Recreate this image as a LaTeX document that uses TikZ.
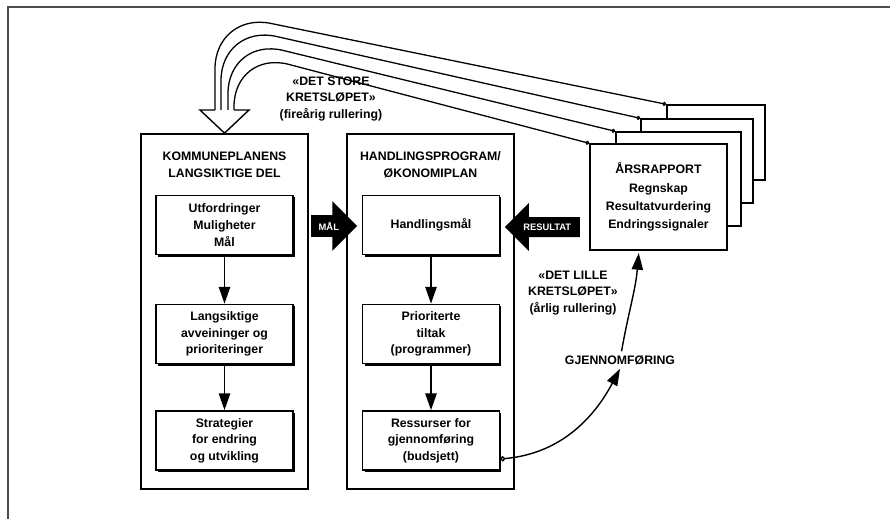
\documentclass[tikz,border=0pt]{standalone}
\usepackage{fontspec}
\setmainfont{Liberation Sans}
\usetikzlibrary{arrows.meta, shapes.arrows, shadows}

\tikzset{
    every node/.style={font=\bfseries\fontsize{10.5}{14.2}\selectfont, align=center},
    ramme/.style={draw, line width=1.5pt, minimum width=5.01cm, minimum height=10.65cm},
    boks/.style={draw, fill=white, line width=1.2pt, minimum width=4.1cm, minimum height=1.78cm, inner sep=2pt,
        drop shadow={shadow xshift=1.8pt, shadow yshift=-1.8pt, fill=black, opacity=1}},
    rapport/.style={draw, fill=white, line width=1.2pt, inner sep=0pt},
    blokkpil/.style={single arrow, fill=black, text=white, font=\bfseries\fontsize{8}{8}\selectfont,
        inner xsep=1pt, inner ysep=5.5pt, single arrow head extend=0.42cm},
    pil/.style={-{Triangle[length=5mm, width=3.4mm]}, line width=1.2pt},
    kurve/.style={{Circle[open, length=3.5pt]}-, line width=1.1pt, rounded corners=1.7cm},
}

\begin{document}
\begin{tikzpicture}[x=0.03cm, y=-0.03cm]
    \useasboundingbox (0,0) rectangle (890,519);
    % ramme rundt figuren
    \draw[gray!60!black, line width=1.8pt] (8,519) -- (8,7) -- (890,7);

    \def\xkp{224.5} % venstre kolonne
    \def\xhp{431} % midtre kolonne

    % de to store rammene
    \node[ramme] (langsiktig) at (\xkp,311.5) {};
    \node[ramme] (handling) at (430.5,311.5) {};
    \node (tittel-kp) at (\xkp,165) {KOMMUNEPLANENS\\LANGSIKTIGE DEL};
    \node (tittel-hp) at (430.5,165) {HANDLINGSPROGRAM/\\ØKONOMIPLAN};

    % boksene i hver kolonne
    \foreach \r/\yy/\txt in {1/225/{Utfordringer\\Muligheter\\Mål}, 2/334/{Langsiktige\\avveininger og\\prioriteringer}, 3/440.5/{Strategier\\for endring\\og utvikling}} {
        \node[boks] (kp-\r) at (\xkp,\yy) {\txt};
    }
    \foreach \r/\yy/\txt in {1/225/{Handlingsmål}, 2/334/{Prioriterte\\tiltak\\(programmer)}, 3/440.5/{Ressurser for\\gjennomføring\\(budsjett)}} {
        \node[boks] (hp-\r) at (\xhp,\yy) {\txt};
    }
    \foreach \r/\s in {1/2, 2/3} {
        \draw[pil] (kp-\r) -- (kp-\s);
        \draw[pil] (hp-\r) -- (hp-\s);
    }

    % blokkpiler
    \node[blokkpil, minimum height=1.38cm, anchor=tail] (mal-pil) at (311,226) {MÅL};
    \node[blokkpil, shape border rotate=180, minimum height=2.25cm, anchor=tail] (resultat-pil) at (580,227) {RESULTAT};

    % aarsrapportene, bakerst foerst
    \foreach \i/\xa/\ya/\xb/\yb in {4/667/105/765/180, 3/641/119/753/203, 2/616/132/741/226} {
        \node[rapport, minimum width={(\xb-\xa)*0.03cm}, minimum height={(\yb-\ya)*0.03cm}] (rapport-\i) at ({(\xa+\xb)/2},{(\ya+\yb)/2}) {};
    }
    \node[rapport, minimum width=4.11cm, minimum height=3.18cm, font=\bfseries\fontsize{10.5}{15.5}\selectfont] (rapport-1) at (658.5,197) {ÅRSRAPPORT\\Regnskap\\Resultatvurdering\\Endringssignaler};

    % det store kretsloepet
    \foreach \i/\xx/\yy in {4/215/12, 3/221/24, 2/228/37, 1/234/50} {
        \coordinate (inn-\i) at (\xx,110);
        \draw[kurve] (rapport-\i.north west) -- (\xx,\yy) -- (inn-\i);
    }
    \draw[line width=1.2pt, fill=white] (inn-4) -- (200,110) -- (langsiktig.north) -- (249,110) -- (inn-1);
    \node (store) at (331,99) {«DET STORE\\KRETSLØPET»\\(fireårig rullering)};

    % det lille kretsloepet
    \node (lille) at (573,293) {«DET LILLE\\KRETSLØPET»\\(årlig rullering)};
    \node (gjennom) at (620,360) {GJENNOMFØRING};
    \draw[{Circle[open, length=4.5pt]}-{Triangle[length=5mm, width=3.4mm]}, line width=1.2pt] (hp-3.-15) to[out=5, in=-118] (gjennom.south);
    \draw[pil, shorten >=2pt] (gjennom.80) to[out=80, in=-95] (rapport-1.-110);
\end{tikzpicture}
\end{document}
